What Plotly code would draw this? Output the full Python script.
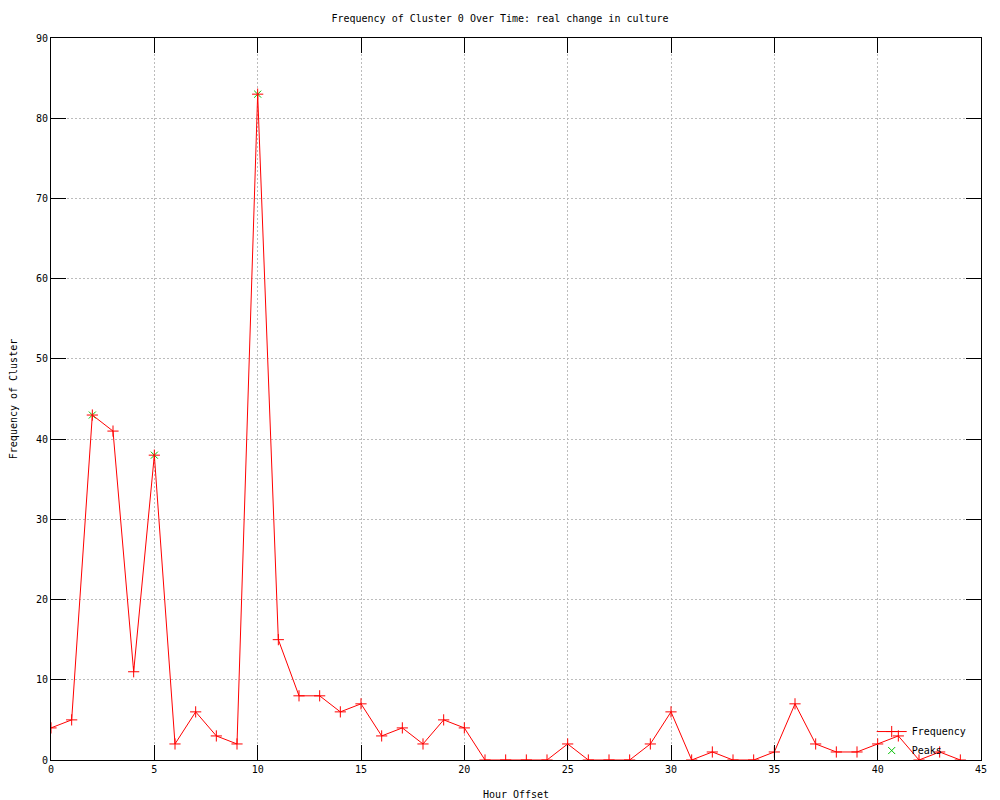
import plotly.graph_objects as go

hours = list(range(45))
freq = [4, 5, 43, 41, 11, 38, 2, 6, 3, 2, 83, 15, 8, 8, 6, 7, 3, 4, 2, 5, 4,
        0, 0, 0, 0, 2, 0, 0, 0, 2, 6, 0, 1, 0, 0, 1, 7, 2, 1, 1, 2, 3, 0, 1, 0]
peak_hours = [2, 5, 10]
peak_vals = [43, 38, 83]

FONT = "DejaVu Sans Mono"

fig = go.Figure()
fig.add_trace(go.Scatter(
    x=peak_hours, y=peak_vals, mode="markers", name="Peaks", legendrank=2,
    marker=dict(symbol="x-thin-open", size=7, color="#00c000",
                line=dict(width=1, color="#00c000")),
))
fig.add_trace(go.Scatter(
    x=hours, y=freq, mode="lines+markers", name="Frequency", legendrank=1,
    line=dict(color="#ff0000", width=1),
    marker=dict(symbol="cross-thin-open", size=8, color="#ff0000",
                line=dict(width=1, color="#ff0000")),
))

axis_common = dict(
    showline=True, linecolor="black", linewidth=1, mirror="ticks",
    ticks="inside", ticklen=15, tickcolor="black", tickwidth=1,
    showgrid=True, gridcolor="#bcbcbc", griddash="2px,2px", gridwidth=1,
    zeroline=False, automargin=False,
    tickfont=dict(family=FONT, size=10, color="black"),
)

fig.update_layout(
    width=1000, height=800,
    paper_bgcolor="white", plot_bgcolor="white",
    margin=dict(l=51, r=19, t=38, b=40),
    font=dict(family=FONT, size=10, color="black"),
    title=dict(text="Frequency of Cluster 0 Over Time: real change in culture",
               x=0.5, xanchor="center", y=0.977, yanchor="middle",
               font=dict(family=FONT, size=10, color="black")),
    xaxis=dict(range=[0, 45], tick0=0, dtick=5,
               title=dict(text="Hour Offset", standoff=16,
                          font=dict(family=FONT, size=10)),
               **axis_common),
    yaxis=dict(range=[0, 90], tick0=0, dtick=10,
               title=dict(text="Frequency of Cluster", standoff=16,
                          font=dict(family=FONT, size=10)),
               **axis_common),
    legend=dict(x=0.99, y=-0.007, xanchor="right", yanchor="bottom",
                bgcolor="rgba(0,0,0,0)", font=dict(family=FONT, size=10),
                tracegroupgap=0, itemwidth=30),
)

fig.write_html(
    "out.html",
    config={"displayModeBar": False},
    post_script="document.body.style.margin='0';document.body.style.overflow='hidden';",
)
